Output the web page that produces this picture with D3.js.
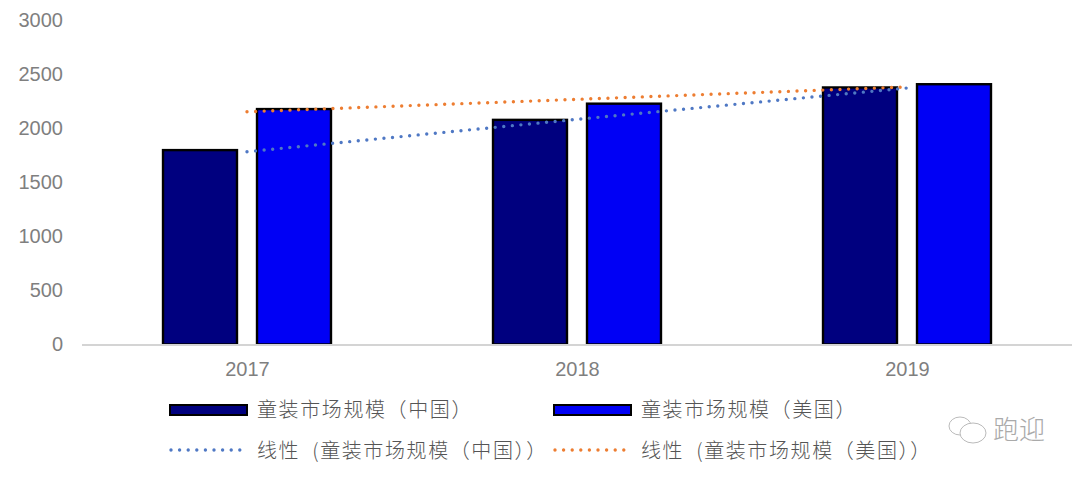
<!DOCTYPE html>
<html>
<head>
<meta charset="utf-8">
<script src="https://cdn.jsdelivr.net/npm/d3@7/dist/d3.min.js"></script>
<style>
  html, body { margin: 0; padding: 0; background: #fff; }
  svg { display: block; }
  .tick-label { font-family: "Liberation Sans", Arial, sans-serif; font-size: 20px; fill: #7f7f7f; }
  .legend-label { font-family: "Noto Sans CJK SC", sans-serif; font-size: 20px; font-weight: 300; fill: #555; }
</style>
</head>
<body>
<svg width="1080" height="477"></svg>
<script>
/* data */
var years = ["2017", "2018", "2019"];
var chinaValues = [1800, 2080, 2380];
var usValues = [2180, 2230, 2410];
var chinaTrend = [1785, 2085, 2375];
var usTrend = [2155, 2270, 2385];
var yTicks = [0, 500, 1000, 1500, 2000, 2500, 3000];
var chinaName = "童装市场规模（中国）";
var usName = "童装市场规模（美国）";
var chinaTrendName = "线性\u00a0\u00a0(童装市场规模（中国））";
var usTrendName = "线性\u00a0\u00a0(童装市场规模（美国））";
var watermark = "跑迎";

var svg = d3.select("svg");

var navy = "#00007f", blue = "#0000f5", lineBlue = "#4f78c4", lineOrange = "#ed7d31";

/* scales */
var x0 = d3.scaleBand().domain(years).range([82, 1072]).paddingInner(0.491).paddingOuter(0.2455);
var x1 = d3.scaleBand().domain(["china", "us"]).range([0, x0.bandwidth()]).paddingInner(0.213);
var xCenter = d3.scalePoint().domain(years).range([247, 907]);
var y = d3.scaleLinear().domain([0, 3000]).range([344.5, 20.5]);

/* y labels, no axis line */
var yAxis = svg.append("g")
    .attr("transform", "translate(63,0)")
    .call(d3.axisLeft(y).tickValues(yTicks).tickFormat(d3.format("d")).tickSize(0).tickPadding(0));
yAxis.select(".domain").remove();
yAxis.selectAll("text").attr("class", "tick-label").attr("font-family", null).attr("font-size", null).attr("fill", null);

/* bars */
var groups = svg.selectAll(".year")
    .data(years)
    .enter().append("g")
    .attr("class", "year")
    .attr("transform", function(d) { return "translate(" + x0(d) + ",0)"; });

groups.append("rect")
    .attr("x", x1("china"))
    .attr("y", function(d, i) { return y(chinaValues[i]); })
    .attr("width", x1.bandwidth())
    .attr("height", function(d, i) { return y(0) - y(chinaValues[i]); })
    .attr("fill", navy).attr("stroke", "#000").attr("stroke-width", 2.4);

groups.append("rect")
    .attr("x", x1("us"))
    .attr("y", function(d, i) { return y(usValues[i]); })
    .attr("width", x1.bandwidth())
    .attr("height", function(d, i) { return y(0) - y(usValues[i]); })
    .attr("fill", blue).attr("stroke", "#000").attr("stroke-width", 2.4);

/* x axis */
var xAxis = svg.append("g")
    .attr("transform", "translate(0,345)")
    .call(d3.axisBottom(xCenter).tickSize(0).tickPadding(17));
xAxis.select(".domain").remove();
xAxis.selectAll("text").attr("class", "tick-label").attr("font-family", null).attr("font-size", null).attr("fill", null);
svg.append("line")
    .attr("x1", 82).attr("x2", 1072).attr("y1", 345).attr("y2", 345)
    .attr("stroke", "#d4d4d4").attr("stroke-width", 2);

/* trend lines */
var line = d3.line()
    .x(function(d, i) { return xCenter(years[i]); })
    .y(function(d) { return y(d); });

[[chinaTrend, lineBlue], [usTrend, lineOrange]].forEach(function(t) {
    svg.append("path")
        .attr("d", line(t[0]))
        .attr("fill", "none")
        .attr("stroke", t[1])
        .attr("stroke-width", 3.4)
        .attr("stroke-linecap", "round")
        .attr("stroke-dasharray", "0 8.6");
});

/* legend */
var legendBars = [
    {name: chinaName, color: navy, x: 170},
    {name: usName, color: blue, x: 554}
];
var legendLines = [
    {name: chinaTrendName, color: lineBlue, x: 170},
    {name: usTrendName, color: lineOrange, x: 554}
];

legendBars.forEach(function(d) {
    svg.append("rect")
        .attr("x", d.x).attr("y", 405)
        .attr("width", 77).attr("height", 10)
        .attr("fill", d.color).attr("stroke", "#000").attr("stroke-width", 2);
    svg.append("text")
        .attr("class", "legend-label")
        .attr("x", d.x + 87).attr("y", 417)
        .attr("letter-spacing", 1.6)
        .text(d.name);
});

legendLines.forEach(function(d) {
    svg.append("line")
        .attr("x1", d.x + 1).attr("x2", d.x + 76).attr("y1", 450).attr("y2", 450)
        .attr("stroke", d.color)
        .attr("stroke-width", 3.4)
        .attr("stroke-linecap", "round")
        .attr("stroke-dasharray", "0 8.6");
    svg.append("text")
        .attr("class", "legend-label")
        .attr("x", d.x + 87).attr("y", 458)
        .attr("letter-spacing", 1.6)
        .text(d.name);
});

/* watermark in the lower right */
var mark = svg.append("g")
    .attr("transform", "translate(948,416)")
    .attr("fill", "#fff").attr("stroke", "#bbb").attr("stroke-width", 1);
mark.append("ellipse").attr("cx", 12).attr("cy", 10).attr("rx", 11).attr("ry", 9);
mark.append("ellipse").attr("cx", 25).attr("cy", 17).attr("rx", 13).attr("ry", 10);
svg.append("text")
    .attr("x", 993).attr("y", 439)
    .attr("font-family", "'Noto Sans CJK SC', sans-serif")
    .attr("font-size", 26)
    .attr("font-weight", 300)
    .attr("fill", "#aaa")
    .text(watermark);
</script>
</body>
</html>
